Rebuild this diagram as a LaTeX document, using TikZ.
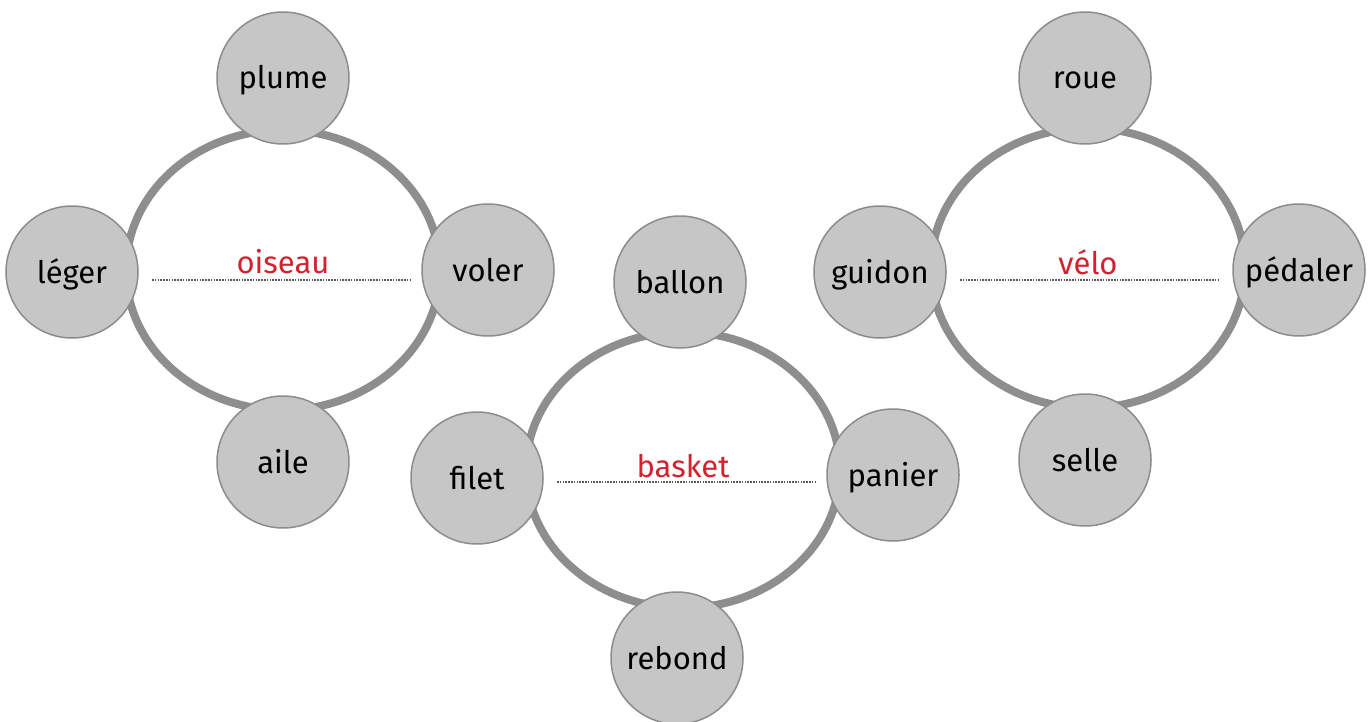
\documentclass[tikz,border=0pt]{standalone}
\usepackage{fontspec}
\setmainfont{Fira Sans}
\usetikzlibrary{positioning}

\definecolor{ringgray}{HTML}{8E8E8E}
\definecolor{rimgray}{HTML}{8C8C8C}
\definecolor{bubblegray}{HTML}{C6C6C6}
\definecolor{dotgray}{HTML}{5A5A5A}
\definecolor{themered}{HTML}{D2222F}

\begin{document}
\begin{tikzpicture}[x=1pt,y=-1pt,
	ring/.style={draw=ringgray,line width=8pt},
	word/.style={draw=rimgray,line width=1.5pt,fill=bubblegray,circle,inner sep=0,outer sep=0,minimum size=132pt,text height=22pt,text depth=0pt,font=\fontsize{31}{36}\selectfont},
	theme/.style={text=themered,anchor=base,inner sep=0,font=\fontsize{31}{36}\selectfont},
	link/.style={draw=dotgray,line width=2pt,dash pattern=on 1.5pt off 1.3pt}]
	\useasboundingbox (0,0) rectangle (1372,722);
	% oiseau
	\draw[ring] (283,270) ellipse [x radius=157,y radius=140];
	\node[word] (plume) at (283,78) {plume};
	\node[word] (leger) at (72,272) {léger};
	\node[word] (voler) at (488,270) {voler};
	\node[word] (aile) at (283,462) {aile};
	\node[theme] (oiseau) at (283,273) {oiseau};
	\draw[link] ([xshift=14pt,yshift=-7pt]leger.east |- oiseau.base) -- ([xshift=-12pt,yshift=-7pt]voler.west |- oiseau.base);
	% basket
	\draw[ring] (683,470) ellipse [x radius=157,y radius=138];
	\node[word] (ballon) at (680,282) {ballon};
	\node[word] (filet) at (477,478) {filet};
	\node[word] (panier) at (893,475) {panier};
	\node[word] (rebond) at (677,658) {rebond};
	\node[theme] (basket) at (683,477) {basket};
	\draw[link] ([xshift=14pt,yshift=-5pt]filet.east |- basket.base) -- ([xshift=-12pt,yshift=-5pt]panier.west |- basket.base);
	% velo
	\draw[ring] (1088,268) ellipse [x radius=157,y radius=140];
	\node[word] (roue) at (1085,78) {roue};
	\node[word] (guidon) at (880,272) {guidon};
	\node[word] (pedaler) at (1299,270) {pédaler};
	\node[word] (selle) at (1085,460) {selle};
	\node[theme] (velo) at (1088,274) {vélo};
	\draw[link] ([xshift=14pt,yshift=-6pt]guidon.east |- velo.base) -- ([xshift=-15pt,yshift=-6pt]pedaler.west |- velo.base);
\end{tikzpicture}
\end{document}
